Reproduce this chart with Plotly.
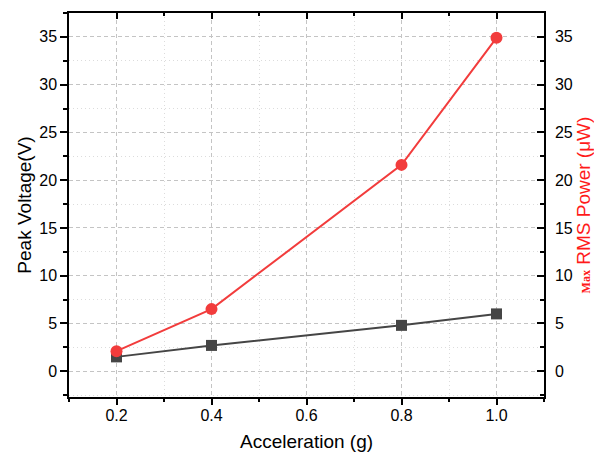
import plotly.graph_objects as go

accel = [0.2, 0.4, 0.8, 1.0]
peak_voltage = [1.5, 2.7, 4.8, 6.0]
rms_power = [2.1, 6.5, 21.6, 34.9]
x_ticks = [0.2, 0.4, 0.6, 0.8, 1.0]
x_tick_labels = ["0.2", "0.4", "0.6", "0.8", "1.0"]
y_ticks = [0, 5, 10, 15, 20, 25, 30, 35]

FONT = "Liberation Sans, Arial, sans-serif"
YR = [-2.7, 37.5]
XR = [0.1, 1.1]
MAJ_DASH = "4px,3px"
MIN_DASH = "1px,3px"

fig = go.Figure()
fig.add_trace(go.Scatter(x=accel, y=peak_voltage, mode="lines+markers",
                         line=dict(color="#454545", width=2),
                         marker=dict(symbol="square", size=11, color="#454545"),
                         showlegend=False))
fig.add_trace(go.Scatter(x=accel, y=rms_power, mode="lines+markers", yaxis="y2",
                         line=dict(color="#f23c3c", width=2),
                         marker=dict(symbol="circle", size=12, color="#f23c3c"),
                         showlegend=False))
fig.add_trace(go.Scatter(x=[None], y=[None], xaxis="x2", showlegend=False))

fig.update_layout(
    width=594, height=459,
    margin=dict(l=69, r=50, t=13, b=62),
    paper_bgcolor="white", plot_bgcolor="white",
    font=dict(family=FONT, size=16, color="black"),
    xaxis=dict(range=XR, tickvals=x_ticks, ticktext=x_tick_labels, automargin=False,
               showline=True, linecolor="black", linewidth=1.5,
               ticks="outside", ticklen=6, tickwidth=1.5, tickcolor="black",
               ticklabelstandoff=-3,
               showgrid=True, gridcolor="#c4c4c4", griddash=MAJ_DASH, gridwidth=1,
               minor=dict(dtick=0.2, tick0=0.3, ticks="outside", ticklen=3, tickwidth=1.5,
                          tickcolor="black", showgrid=True, gridcolor="#dcdcdc", griddash=MIN_DASH),
               zeroline=False,
               title=dict(text="Acceleration (g)", font=dict(size=19), standoff=12)),
    xaxis2=dict(range=XR, overlaying="x", side="top", tickvals=x_ticks, showticklabels=False,
                automargin=False,
                showline=True, linecolor="black", linewidth=1.5,
                ticks="inside", ticklen=6, tickwidth=1.5, tickcolor="black",
                minor=dict(dtick=0.2, tick0=0.3, ticks="inside", ticklen=3, tickwidth=1.5, tickcolor="black"),
                showgrid=False, zeroline=False),
    yaxis=dict(range=YR, tickvals=y_ticks, automargin=False,
               showline=True, linecolor="black", linewidth=1.5,
               ticks="outside", ticklen=7, tickwidth=1.5, tickcolor="black",
               showgrid=True, gridcolor="#c4c4c4", griddash=MAJ_DASH, gridwidth=1,
               minor=dict(dtick=5, tick0=2.5, ticks="outside", ticklen=4, tickwidth=1.5,
                          tickcolor="black", showgrid=True, gridcolor="#dcdcdc", griddash=MIN_DASH),
               zeroline=False,
               title=dict(text="Peak Voltage(V)", font=dict(size=19), standoff=3)),
    yaxis2=dict(range=YR, tickvals=y_ticks, overlaying="y", side="right", automargin=False,
                showline=True, linecolor="black", linewidth=1.5,
                ticks="inside", ticklen=7, tickwidth=1.5, tickcolor="black",
                ticklabelstandoff=6,
                minor=dict(dtick=5, tick0=2.5, ticks="inside", ticklen=4, tickwidth=1.5, tickcolor="black"),
                showgrid=False, zeroline=False,
                title=dict(text="<span style='font-family:Liberation Serif, serif;font-size:12px'><b>Max</b></span> RMS Power (μW)",
                           font=dict(size=19, color="#ff1a1a"), standoff=6)),
)

fig.write_html("out.html", config={"displayModeBar": False},
               post_script="document.body.style.margin='0';document.body.style.overflow='hidden';")
